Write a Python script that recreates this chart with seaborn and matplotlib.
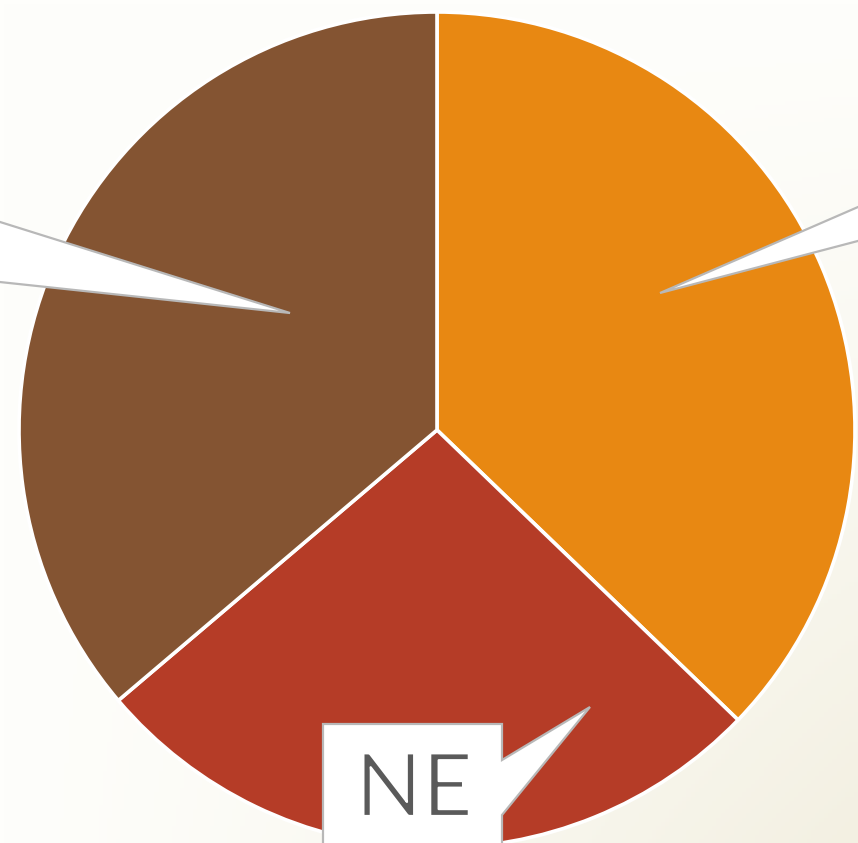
import numpy as np
import matplotlib
matplotlib.use("Agg")
import matplotlib.pyplot as plt
from matplotlib.patches import Polygon
import matplotlib.patheffects as pe
import seaborn as sns

# ---- data ----
labels = ["SE", "NE", "NW"]
values = [37.2, 26.6, 36.2]
colors = ["#E88812", "#B53C27", "#845432"]

sns.set_theme(style="white")
plt.rcParams['font.family'] = ['Lato', 'DejaVu Sans']

W, H = 858, 843
fig = plt.figure(figsize=(W / 100, H / 100), dpi=100)
ax = fig.add_axes([0, 0, 1, 1])

# background gradient (white top-left -> cream bottom-right)
xx, yy = np.meshgrid(np.linspace(0, 1, 200), np.linspace(0, 1, 200))
t = np.clip((xx * yy), 0, 1) ** 1.2
c0 = np.array([0xFE, 0xFE, 0xFB]) / 255
c1 = np.array([0xF3, 0xF0, 0xE2]) / 255
img = c0[None, None, :] * (1 - t[..., None]) + c1[None, None, :] * t[..., None]
ax.imshow(img, extent=[0, W, 0, H], origin="upper", aspect="auto", zorder=0)

def Y(y):
    return H - y

cx, cy, r = 437, 430, 418
ax.pie(values, colors=colors, startangle=90, counterclock=False,
       center=(cx, Y(cy)), radius=r,
       wedgeprops=dict(edgecolor="white", linewidth=2.6, zorder=2),
       frame=True)

# callouts
edge = "#B8B8B8"
def callout(pts):
    poly = Polygon([(x, Y(y)) for x, y in pts], closed=True,
                   facecolor="white", edgecolor=edge, linewidth=1.6, zorder=5)
    ax.add_patch(poly)

# left (NW) - box off canvas
callout([(-200, 180), (-20, 180), (-20, 215.7), (290, 313), (-20, 279.9),
         (-20, 330), (-200, 330)])
# right (SE) - box off canvas
callout([(870, 150), (1050, 150), (1050, 290), (870, 290), (870, 237.8),
         (660, 293), (870, 201.8)])
# bottom (NE)
callout([(323, 724), (502, 724), (502, 760), (590, 707), (502, 815),
         (502, 900), (323, 900)])
ax.text(414, Y(816), labels[1], ha="center", va="baseline", fontsize=63,
        fontweight="normal", color="#5A5A5A", zorder=6,
        path_effects=[pe.Normal(), pe.Stroke(linewidth=1.6, foreground="white")])

ax.set_xlim(0, W)
ax.set_ylim(0, H)
ax.set_aspect("auto")
ax.axis("off")

fig.savefig("out.png", dpi=100)
